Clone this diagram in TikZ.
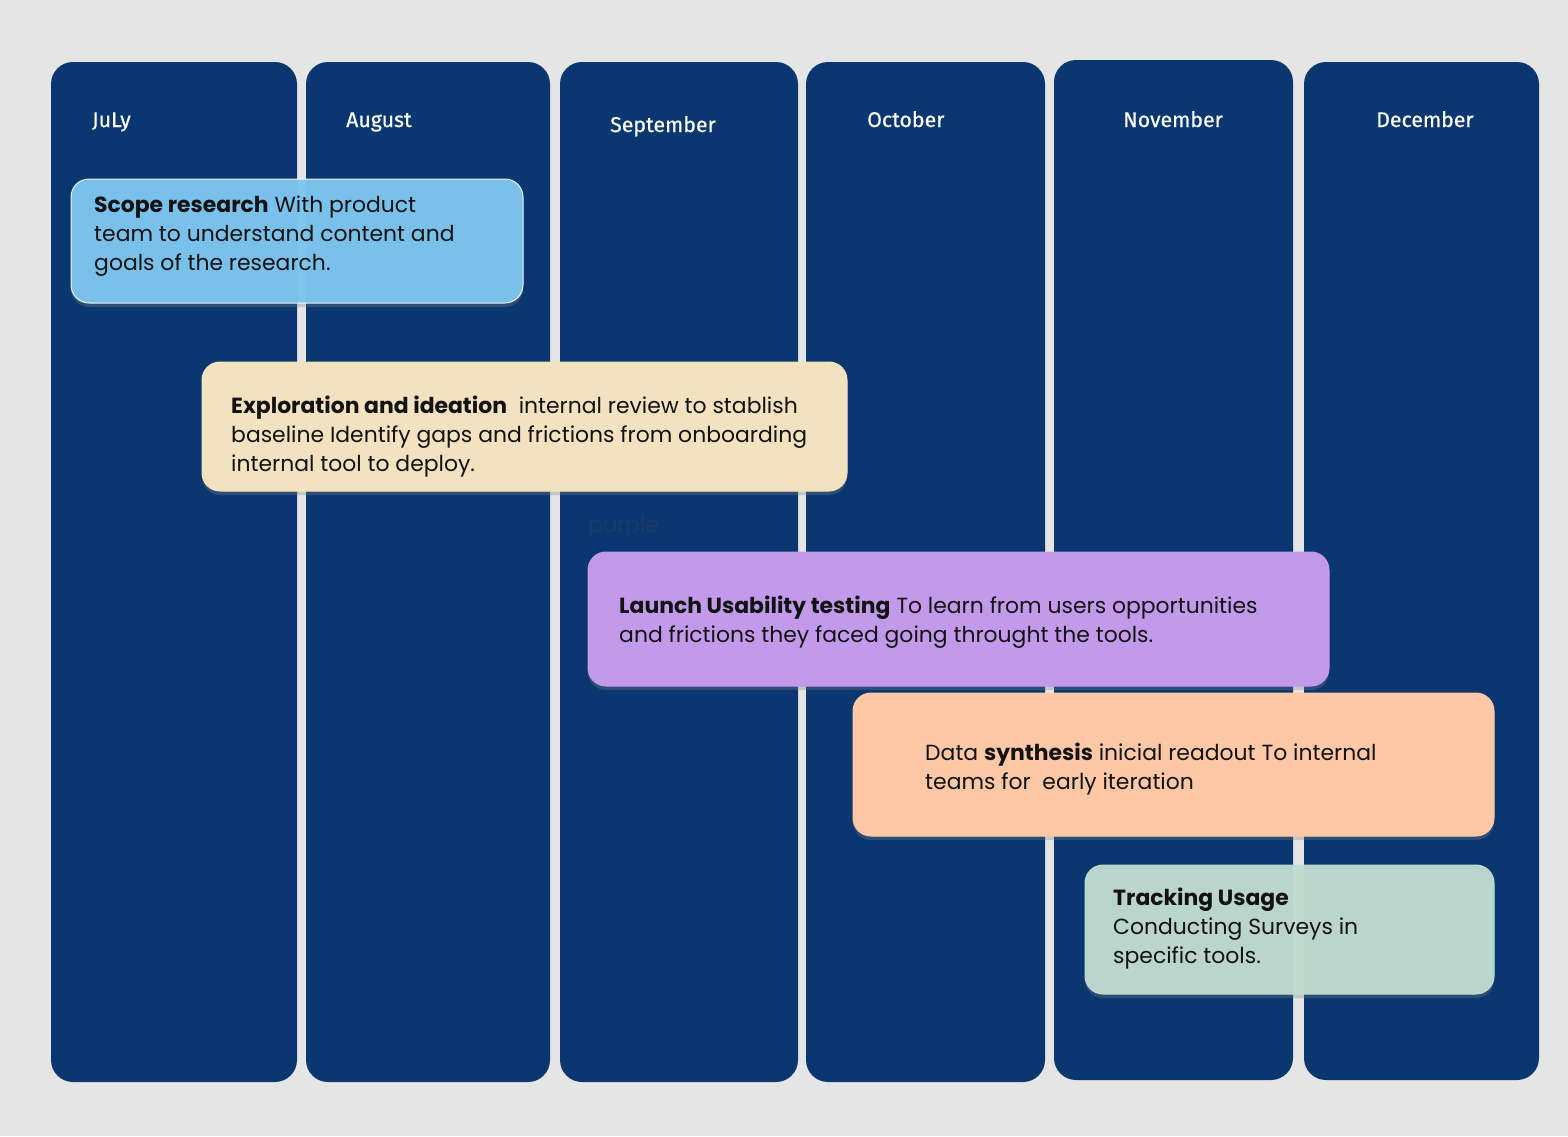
\documentclass[tikz,border=0pt]{standalone}
\usepackage{fontspec}
\setmainfont{Poppins}
\newfontfamily\monthfont[FakeBold=0.5]{Fira Sans}
\usetikzlibrary{shadows}
\definecolor{bgc}{HTML}{E5E5E5}
\definecolor{navy}{HTML}{0B3770}
\definecolor{cblue}{HTML}{7DC6F0}
\definecolor{ccream}{HTML}{F3E2BF}
\definecolor{cpurple}{HTML}{C39AEB}
\definecolor{cpeach}{HTML}{FDC8A6}
\definecolor{cmint}{HTML}{C1DDD1}
\definecolor{ghost}{HTML}{1C3A6A}
\definecolor{txt}{HTML}{121212}
\tikzset{
  colbox/.style={fill=navy, draw=none, rounded corners=22pt},
  month/.style={anchor=base west, text=white, inner sep=0pt, font=\monthfont\fontsize{21.3}{24}\selectfont},
  taskbox/.style={rounded corners=18pt, draw=white, line width=1pt, drop shadow={opacity=0.3, shadow xshift=0pt, shadow yshift=-4pt}},
  tasktext/.style={anchor=base west, inner sep=0pt, align=left, text=txt, font=\fontsize{21.9}{29}\selectfont},
}
\begin{document}
\begin{tikzpicture}[x=1pt,y=-1pt]
\useasboundingbox (0,0) rectangle (1568,1136);
\fill[bgc] (0,0) rectangle (1568,1136);
% columns
\path[colbox] (51,62) rectangle (297,1082);
\path[colbox] (306,62) rectangle (550,1082);
\path[colbox] (560,62) rectangle (798,1082);
\path[colbox] (806,62) rectangle (1045,1082);
\path[colbox] (1054,60) rectangle (1293,1080);
\path[colbox] (1304,62) rectangle (1539,1080);
% month labels
\node[month] (m1) at (92,127) {JuLy};
\node[month] (m2) at (346,127) {August};
\node[month] (m3) at (610,132) {September};
\node[month] (m4) at (867,127) {October};
\node[month] (m5) at (1123,127) {November};
\node[month] (m6) at (1376,127) {December};
% ghost text
\node[tasktext, text=ghost] (ghost) at (588,532) {purple};
% task boxes (text anchored at the baseline of its last line)
\path[taskbox, fill=cblue, fill opacity=0.96, draw opacity=0.9] (71,179) rectangle (523,303);
\node[tasktext] (t1) at (94,270) {\textbf{Scope research} With product\\team to understand content and\\goals of the research.};
\path[taskbox, fill=ccream, draw=ccream] (202,362) rectangle (847,491);
\node[tasktext] (t2) at (231,471) {\textbf{Exploration and ideation}\ \ internal review to stablish\\baseline Identify gaps and frictions from onboarding\\internal tool to deploy.};
\path[taskbox, fill=cpurple, draw=cpurple] (588,552) rectangle (1329,686);
\node[tasktext] (t3) at (619,642) {\textbf{Launch Usability testing} To learn from users opportunities\\and frictions they faced going throught the tools.};
\path[taskbox, fill=cpeach, draw=cpeach] (853,693) rectangle (1494,836);
\node[tasktext] (t4) at (925,789) {Data \textbf{synthesis} inicial readout To internal\\teams for\ \ early iteration};
\path[taskbox, fill=cmint, fill opacity=0.95, draw=cmint] (1085,865) rectangle (1494,994);
\node[tasktext] (t5) at (1113,963) {\textbf{Tracking Usage}\\Conducting Surveys in\\specific tools.};
\end{tikzpicture}
\end{document}
